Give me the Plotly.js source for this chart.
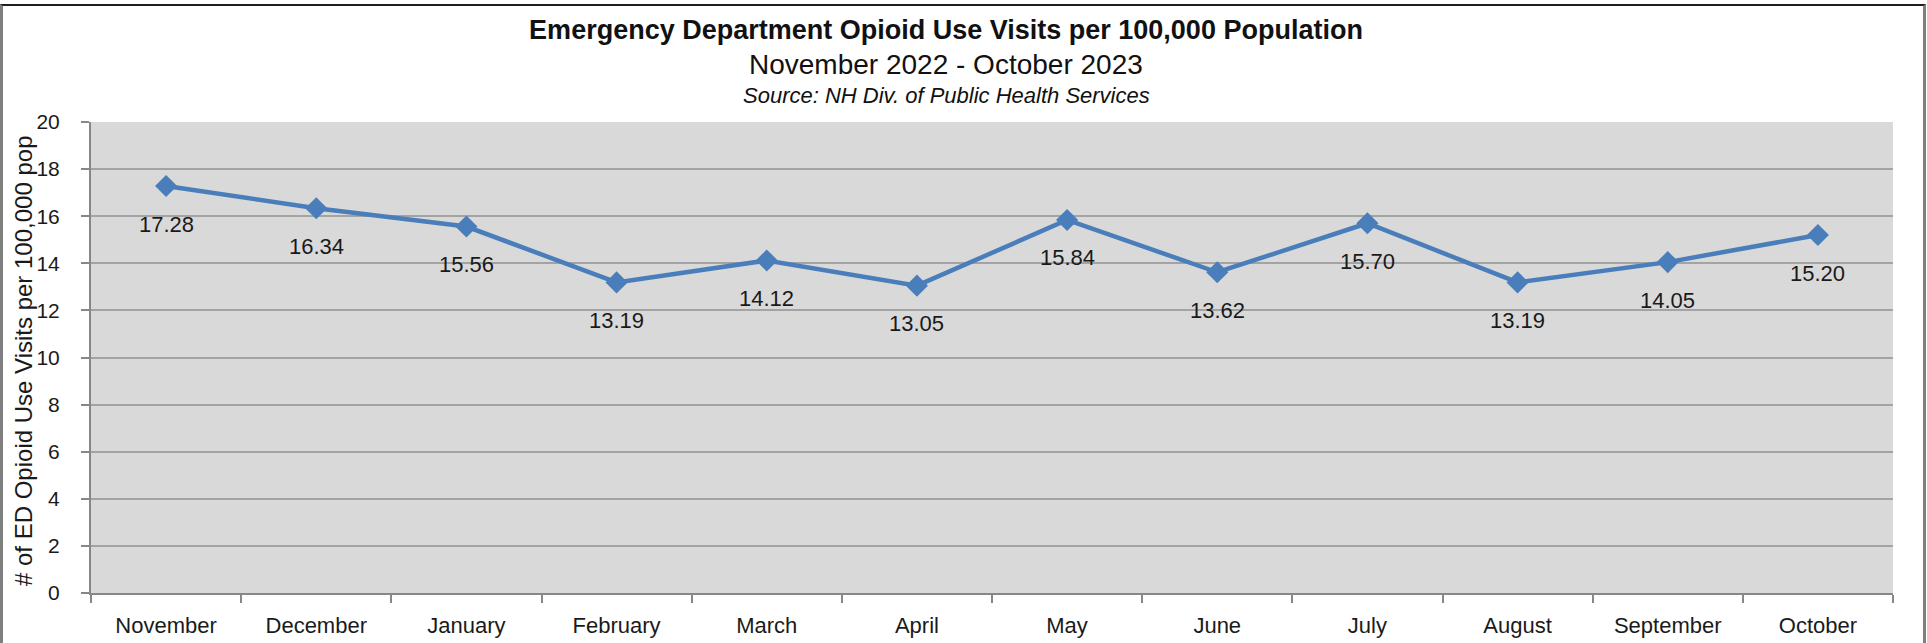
<!DOCTYPE html>
<html>
<head>
<meta charset="utf-8">
<script src="https://cdn.plot.ly/plotly-3.0.1.min.js"></script>
<style>
  html, body { margin: 0; padding: 0; background: #ffffff; }
  #wrap { position: relative; width: 1927px; height: 643px; overflow: hidden; }
  #chart { position: absolute; left: 0; top: 0; width: 1927px; height: 643px; }
  #frame { position: absolute; left: 0px; top: 4px; width: 1920px; height: 700px;
           border-top: 2px solid #1e1e1e; border-left: 3px solid #7f7f7f; border-right: 3px solid #7f7f7f;
           pointer-events: none; }
</style>
</head>
<body>
<div id="wrap">
  <div id="chart"></div>
  <div id="frame"></div>
</div>
<script>
const months = ["November","December","January","February","March","April","May","June","July","August","September","October"];
const visitsPer100k = [17.28, 16.34, 15.56, 13.19, 14.12, 13.05, 15.84, 13.62, 15.70, 13.19, 14.05, 15.20];
const yTickValues = [0,2,4,6,8,10,12,14,16,18,20];
const chartTitle = "Emergency Department Opioid Use Visits per 100,000 Population";
const chartSubtitle = "November 2022 - October 2023";
const chartSource = "Source: NH Div. of Public Health Services";
const yAxisTitle = "# of ED Opioid Use Visits per 100,000 pop";

const FONT = "Liberation Sans, Arial, sans-serif";
const BLUE = "#4a7ebb";

const trace = {
  type: "scatter",
  mode: "lines+markers",
  x: months,
  y: visitsPer100k,
  line: { color: BLUE, width: 4.5 },
  marker: { symbol: "diamond", size: 17, color: BLUE },
  hoverinfo: "x+y"
};

const labelAnnotations = months.map((m, i) => ({
  x: m, y: visitsPer100k[i], xref: "x", yref: "y",
  text: visitsPer100k[i].toFixed(2),
  showarrow: false, yshift: -38,
  font: { family: FONT, size: 22, color: "#1a1a1a" }
}));

const layout = {
  width: 1927, height: 643,
  paper_bgcolor: "rgba(0,0,0,0)",
  plot_bgcolor: "#d9d9d9",
  margin: { l: 91, r: 34, t: 122, b: 50 },
  showlegend: false,
  font: { family: FONT, color: "#1a1a1a" },
  title: {
    text: "<b>" + chartTitle + "</b>",
    font: { family: FONT, size: 27, color: "#111111" },
    x: 946 / 1927, xref: "container", xanchor: "center",
    y: 1 - 30 / 643, yref: "container", yanchor: "middle"
  },
  annotations: [
    { text: chartSubtitle, xref: "paper", yref: "paper",
      x: (946 - 91) / 1802, y: (593 - 64) / 471, xanchor: "center", yanchor: "middle",
      showarrow: false, font: { family: FONT, size: 28, color: "#111111" } },
    { text: "<i>" + chartSource + "</i>", xref: "paper", yref: "paper",
      x: (946 - 91) / 1802, y: (593 - 95) / 471, xanchor: "center", yanchor: "middle",
      showarrow: false, font: { family: FONT, size: 22, color: "#111111" } },
    { text: yAxisTitle, xref: "paper", yref: "paper",
      x: (23 - 91) / 1802, y: (593 - 361) / 471, xanchor: "center", yanchor: "middle",
      textangle: -90, showarrow: false, font: { family: FONT, size: 24, color: "#1a1a1a" } }
  ].concat(labelAnnotations),
  xaxis: {
    type: "category",
    tickson: "boundaries",
    ticks: "outside", ticklen: 8, tickcolor: "#878787", tickwidth: 2,
    showline: true, linecolor: "#878787", linewidth: 2,
    showgrid: false, zeroline: false,
    tickfont: { family: FONT, size: 22, color: "#1a1a1a" },
    ticklabelstandoff: 12,
    range: [-0.5, 11.5]
  },
  yaxis: {
    range: [0, 20],
    tickvals: yTickValues,
    ticktext: yTickValues.map(String),
    ticks: "outside", ticklen: 8, tickcolor: "#878787", tickwidth: 2,
    showline: true, linecolor: "#878787", linewidth: 2,
    showgrid: true, gridcolor: "#a3a3a3", gridwidth: 2,
    zeroline: false,
    tickfont: { family: FONT, size: 21, color: "#1a1a1a" },
    ticklabelstandoff: 17
  }
};

Plotly.newPlot("chart", [trace], layout, { displayModeBar: false, staticPlot: true });
</script>
</body>
</html>
